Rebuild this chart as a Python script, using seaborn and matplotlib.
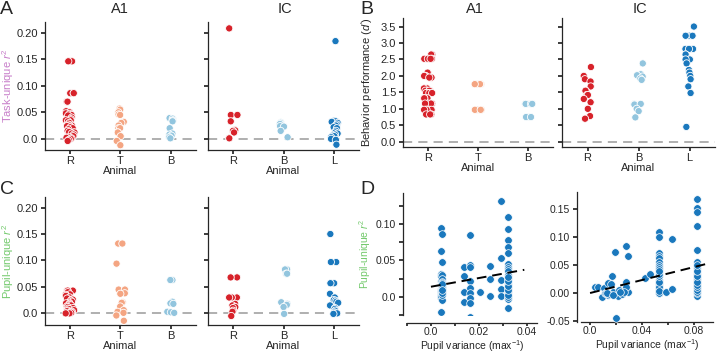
import numpy as np
import pandas as pd
import matplotlib
matplotlib.use("Agg")
import matplotlib.pyplot as plt
import seaborn as sns

# ---------------- data ----------------
a1_animals = ["R", "T", "B"]
ic_animals = ["R", "B", "L"]

# Panel A: task-unique r2
task_a1_R = [0.146, 0.146, 0.146, 0.086, 0.086, 0.086, 0.070, 0.070, 0.052, 0.050, 0.048, 0.047,
             0.045, 0.044, 0.040, 0.037, 0.035, 0.035, 0.033, 0.030, 0.027, 0.025, 0.025, 0.024,
             0.022, 0.020, 0.018, 0.015, 0.013, 0.012, 0.012, 0.010, 0.008, 0.005, 0.003, 0.002,
             0.001, 0.000, -0.002, -0.004]
task_a1_T = [0.057, 0.055, 0.050, 0.046, 0.045, 0.032, 0.030, 0.025, 0.020, 0.020, 0.012, 0.012,
             0.005, -0.004, -0.012]
task_a1_B = [0.039, 0.038, 0.035, 0.034, 0.033, 0.020, 0.010, 0.008, 0.006, 0.003, 0.001]
task_ic_R = [0.208, 0.045, 0.045, 0.033, 0.017, 0.016, 0.016, 0.015, 0.012, 0.001, 0.001]
task_ic_B = [0.031, 0.030, 0.028, 0.024, 0.023, 0.015, 0.003]
task_ic_L = [0.184, 0.034, 0.033, 0.032, 0.030, 0.027, 0.025, 0.022, 0.020, 0.015, 0.012, 0.010,
             0.008, 0.006, 0.005, 0.003, 0.000, -0.002, -0.011]

# Panel B: behavior performance (d')
beh_a1_R = [2.65, 2.65, 2.52, 2.52, 2.52, 2.52, 2.52, 2.10, 2.10, 2.00, 2.00, 2.00, 1.95, 1.95,
            1.62, 1.62, 1.62, 1.55, 1.55, 1.55, 1.48, 1.48, 1.48, 1.48, 1.32, 1.32, 1.32, 1.32,
            1.16, 1.16, 1.16, 1.16, 0.97, 0.97, 0.97, 0.97, 0.97, 0.83, 0.83, 0.83]
beh_a1_T = [1.75, 1.75, 1.75, 1.75, 1.75, 1.75, 1.75, 0.97, 0.97, 0.97, 0.97, 0.97, 0.97]
beh_a1_B = [1.15, 1.15, 1.15, 1.15, 1.15, 1.15, 0.75, 0.75, 0.75, 0.75]
beh_ic_R = [2.27, 2.00, 1.90, 1.83, 1.68, 1.55, 1.55, 1.42, 1.42, 1.30, 1.20, 1.00, 0.78, 0.70]
beh_ic_B = [2.38, 2.05, 2.02, 1.98, 1.92, 1.88, 1.15, 1.13, 1.15, 1.00, 0.93, 0.74]
beh_ic_L = [3.50, 3.22, 3.22, 3.22, 2.82, 2.82, 2.82, 2.82, 2.65, 2.65, 2.50, 2.50, 2.38, 2.18,
            2.10, 2.00, 1.90, 1.68, 1.48, 0.45]

# Panel C: pupil-unique r2
pup_a1_R = [0.043, 0.043, 0.043, 0.043, 0.040, 0.036, 0.035, 0.033, 0.030, 0.028, 0.026, 0.026,
            0.024, 0.022, 0.020, 0.019, 0.018, 0.016, 0.015, 0.013, 0.012, 0.010, 0.009, 0.008,
            0.006, 0.005, 0.004, 0.003, 0.002, 0.001, 0.000, 0.000, 0.000]
pup_a1_T = [0.132, 0.132, 0.094, 0.045, 0.045, 0.038, 0.037, 0.021, 0.020, 0.013, 0.006, 0.003,
            0.001, -0.004, -0.014]
pup_a1_B = [0.063, 0.063, 0.022, 0.019, 0.018, 0.003, 0.002, 0.001]
pup_ic_R = [0.068, 0.068, 0.030, 0.030, 0.030, 0.030, 0.018, 0.015, 0.012, 0.010, 0.005, 0.003,
            -0.005]
pup_ic_B = [0.083, 0.083, 0.075, 0.075, 0.021, 0.018, 0.016, 0.012, -0.001]
pup_ic_L = [0.150, 0.097, 0.097, 0.057, 0.057, 0.037, 0.030, 0.025, 0.024, 0.022, 0.020, 0.015,
            0.010, 0.008, 0.005, 0.002, 0.000, 0.000, -0.001]

# Panel D: pupil variance vs pupil-unique r2
d_a1_var = [0.0040] * 17 + [0.0045] * 17 + [0.0140] * 4 + [0.0163] * 9 + [0.0203] + [0.0245] * 3 \
    + [0.0294] * 5 + [0.0321] * 22
d_a1_r2 = [0.095, 0.063, 0.032, 0.028, 0.022, 0.016, 0.010, 0.005, 0.001, -0.021,
           0.000, 0.002, 0.004, 0.006, 0.008, -0.002, 0.001,
           0.086, 0.048, 0.030, 0.025, 0.020, 0.019, 0.014, 0.012, 0.007, -0.005,
           0.010, 0.012, 0.015, 0.018, 0.003, 0.005, 0.009,
           0.041, 0.029, 0.006, -0.007,
           0.085, 0.044, 0.041, 0.021, 0.012, 0.005, -0.002, -0.009, -0.028,
           0.007,
           0.042, 0.025, 0.001,
           0.132, 0.054, 0.023, 0.011, 0.001,
           0.110, 0.094, 0.078, 0.068, 0.061, 0.045, 0.041, 0.038, 0.035, 0.030, 0.024, 0.018,
           0.012, 0.006, -0.003, -0.016, 0.000, 0.003, 0.009, 0.015, 0.021, 0.027]
d_ic_var = [0.0040, 0.0060, 0.0095, 0.0110, 0.0115, 0.0140, 0.0140, 0.0160, 0.0170, 0.0180,
            0.0190, 0.0200, 0.0214, 0.0240, 0.0250, 0.0280, 0.0277, 0.0297, 0.0297, 0.0280,
            0.0426, 0.0460, 0.0120, 0.0150, 0.0220, 0.0260, 0.0130, 0.0180, 0.0230] \
    + [0.0534] * 27 + [0.0590, 0.0630, 0.0630] + [0.0825] * 22
d_ic_r2 = [0.012, 0.012, -0.006, 0.010, 0.000, 0.019, -0.003, 0.016, 0.030, 0.002,
           0.074, -0.044, -0.004, 0.003, -0.001, 0.020, 0.083, 0.067, 0.003, 0.012,
           0.027, 0.035, 0.000, -0.002, 0.005, 0.003, 0.000, -0.003, 0.002,
           0.109, 0.100, 0.072, 0.066, 0.062, 0.056, 0.050, 0.046, 0.043, 0.024, 0.018, 0.015,
           0.008, 0.003, 0.000, 0.000, 0.002, 0.005, 0.010, 0.012, 0.020, 0.030, 0.035, 0.040,
           0.000, 0.001, 0.004,
           0.003, 0.097, 0.008,
           0.167, 0.151, 0.144, 0.119, 0.077, 0.055, 0.044, 0.035, 0.028, 0.024, 0.018, 0.009,
           -0.004, 0.000, 0.003, 0.005, 0.012, 0.015, 0.020, 0.030, 0.040, 0.050]

palette = {"R": "#d7222a", "T": "#f4a582", "B": "#92c5de", "L": "#1a78bd"}
d_color = "#1a78bd"
task_color = "#c77dc9"
pupil_color = "#72c96b"

# ---------------- style ----------------
sns.set_theme(style="ticks")
plt.rcParams["font.family"] = ["Liberation Sans", "DejaVu Sans"]
plt.rcParams["mathtext.fontset"] = "custom"
plt.rcParams["mathtext.rm"] = "Liberation Sans"
plt.rcParams["mathtext.it"] = "Liberation Sans:italic"
plt.rcParams["axes.unicode_minus"] = False
plt.rcParams["xtick.labelsize"] = 8
plt.rcParams["ytick.labelsize"] = 8
plt.rcParams["axes.labelsize"] = 8
plt.rcParams["axes.linewidth"] = 0.9
plt.rcParams["xtick.major.size"] = 3
plt.rcParams["ytick.major.size"] = 3
plt.rcParams["xtick.major.pad"] = 1.5
plt.rcParams["ytick.major.pad"] = 2

W, H = 718, 353
fig = plt.figure(figsize=(W / 100, H / 100), dpi=100)


def ax_px(l, r, t, b):
    return fig.add_axes([l / W, 1 - b / H, (r - l) / W, (b - t) / H])


np.random.seed(3)


def strip(ax, cats, groups, ylim):
    labels, vals = [], []
    for c, g in zip(cats, groups):
        labels += [c] * len(g)
        vals += list(g)
    df = pd.DataFrame({"Animal": labels, "v": vals})
    ax.axhline(0, color="#9a9a9a", ls=(0, (6, 4)), lw=1.1, zorder=0)
    sns.stripplot(data=df, x="Animal", y="v", hue="Animal", order=cats, hue_order=cats,
                  palette=palette, jitter=0.09, size=5.2, linewidth=0.6, edgecolor="white",
                  legend=False, ax=ax, zorder=3)
    ax.set_xlim(-0.5, 2.5)
    ax.set_ylim(*ylim)
    ax.set_xlabel("Animal", labelpad=0)
    ax.set_ylabel("")
    sns.despine(ax=ax)


r2_ticks = [0.0, 0.05, 0.10, 0.15, 0.20]
r2_labels = ["0.0", "0.05", "0.10", "0.15", "0.20"]
beh_ticks = [0.0, 0.5, 1.0, 1.5, 2.0, 2.5, 3.0, 3.5]

# Panel A
axA1 = ax_px(45, 196, 22, 150)
strip(axA1, a1_animals, [task_a1_R, task_a1_T, task_a1_B], (-0.021, 0.22))
axA1.set_yticks(r2_ticks, r2_labels)
axA1.set_ylabel("Task-unique $r^2$", color=task_color)
axA1.yaxis.set_label_coords(-0.19, 0.5)
axA2 = ax_px(208, 359, 22, 150)
strip(axA2, ic_animals, [task_ic_R, task_ic_B, task_ic_L], (-0.021, 0.22))
axA2.set_yticks(r2_ticks, [""] * 5)

# Panel B
axB1 = ax_px(403, 553, 18, 147)
strip(axB1, a1_animals, [beh_a1_R, beh_a1_T, beh_a1_B], (-0.16, 3.76))
axB1.set_yticks(beh_ticks, [f"{t:.1f}" for t in beh_ticks])
axB1.set_ylabel("Behavior performance ($d'$)")
axB1.yaxis.set_label_coords(-0.185, 0.5)
axB2 = ax_px(562, 715, 18, 147)
strip(axB2, ic_animals, [beh_ic_R, beh_ic_B, beh_ic_L], (-0.16, 3.76))
axB2.set_yticks(beh_ticks, [""] * len(beh_ticks))

# Panel C
axC1 = ax_px(45, 196, 197, 325)
strip(axC1, a1_animals, [pup_a1_R, pup_a1_T, pup_a1_B], (-0.022, 0.22))
axC1.set_yticks(r2_ticks, r2_labels)
axC1.set_ylabel("Pupil-unique $r^2$", color=pupil_color)
axC1.yaxis.set_label_coords(-0.19, 0.5)
axC2 = ax_px(208, 359, 197, 325)
strip(axC2, ic_animals, [pup_ic_R, pup_ic_B, pup_ic_L], (-0.022, 0.22))
axC2.set_yticks(r2_ticks, [""] * 5)


# Panel D
def scatter_fit(ax, xs, ys, x_end, label_y):
    df = pd.DataFrame({"x": xs, "y": ys})
    sns.scatterplot(data=df, x="x", y="y", color=d_color, s=30, edgecolor="white",
                    linewidth=0.5, ax=ax, zorder=3)
    k, b0 = np.polyfit(df["x"], df["y"], 1)
    xx = np.linspace(0.0, x_end, 50)
    sns.lineplot(x=xx, y=k * xx + b0, color="black", lw=1.4, ax=ax, zorder=4,
                 linestyle=(0, (5, 3)))
    ax.set_xlabel("Pupil variance (max$^{-1}$)", fontsize=7.5)
    ax.xaxis.set_label_coords(0.5, label_y)
    ax.set_ylabel("")
    sns.despine(ax=ax)
    ax.spines["left"].set_position(("outward", 3))
    ax.tick_params(axis="x", length=2.5, pad=0.5, labelsize=7.5)
    ax.tick_params(axis="y", labelsize=7.5)


axD1 = ax_px(407, 537, 193, 315)
scatter_fit(axD1, d_a1_var, d_a1_r2, 0.039, -0.193)
axD1.spines["bottom"].set_position(("outward", 5.5))
axD1.set_xlim(-0.0095, 0.0443)
axD1.set_ylim(-0.0253, 0.1432)
axD1.set_xticks([-0.01, 0.0, 0.01, 0.02, 0.03, 0.04], ["", "0.0", "", "0.02", "", "0.04"])
axD1.set_yticks([-0.025, 0.0, 0.025, 0.05, 0.075, 0.10, 0.125],
                ["", "0.0", "", "0.05", "", "0.10", ""])
axD1.set_ylabel("Pupil-unique $r^2$", color=pupil_color, fontsize=7.5)
axD1.yaxis.set_label_coords(-0.26, 0.5)

axD2 = ax_px(581, 713, 192, 322)
scatter_fit(axD2, d_ic_var, d_ic_r2, 0.09, -0.12)
axD2.set_xlim(-0.007, 0.095)
axD2.set_ylim(-0.0509, 0.1796)
axD2.set_xticks([0.0, 0.02, 0.04, 0.06, 0.08], ["0.0", "", "0.04", "", "0.08"])
axD2.set_yticks([-0.05, 0.0, 0.05, 0.10, 0.15], ["-0.05", "0.00", "0.05", "0.10", "0.15"])

# Titles and panel letters
for x, t in [(120, "A1"), (285, "IC"), (475, "A1"), (640, "IC")]:
    fig.text(x / W, 1 - 9 / H, t, ha="center", va="center", fontsize=10.5)
for x, y, t in [(0, 9, "A"), (360, 9, "B"), (0, 189, "C"), (360, 189, "D")]:
    fig.text(x / W, 1 - y / H, t, ha="left", va="center", fontsize=14)

fig.savefig("out.png", dpi=100)
